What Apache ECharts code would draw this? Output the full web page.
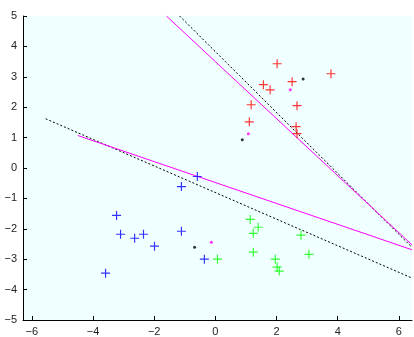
<!DOCTYPE html>
<html>
<head>
<meta charset="utf-8">
<script src="https://cdn.jsdelivr.net/npm/echarts@6/dist/echarts.min.js"></script>
<style>
html,body{margin:0;padding:0;background:#fff;}
#main{width:414px;height:337px;}
</style>
</head>
<body>
<div id="main"></div>
<script>
// class samples (x, y)
var redPts = [[3.78,3.10],[2.02,3.43],[1.57,2.74],[1.79,2.57],[1.17,2.08],[2.51,2.84],[2.67,2.05],[1.11,1.52],[2.64,1.36],[2.67,1.13]];
var bluePts = [[-3.23,-1.56],[-0.59,-0.28],[-1.11,-0.61],[-3.59,-3.46],[-3.10,-2.18],[-2.64,-2.31],[-2.35,-2.18],[-1.11,-2.08],[-1.99,-2.57],[-0.36,-3.0]];
var greenPts = [[0.07,-3.0],[1.14,-1.69],[1.40,-1.95],[1.24,-2.15],[1.24,-2.77],[1.96,-3.0],[2.02,-3.26],[2.09,-3.39],[2.80,-2.21],[3.06,-2.84]];
// small dots (means)
var blackDots = [[2.87,2.93],[0.88,0.93],[-0.68,-2.61]];
var magentaDots = [[2.45,2.57],[1.08,1.13],[-0.13,-2.44]];
// boundary lines
var dashUpper = [[-1.17,5],[6.43,-2.61]];
var dashLower = [[-5.55,1.62],[6.43,-3.62]];
var magUpper = [[-1.60,5],[6.43,-2.53]];
var magLower = [[-4.50,1.07],[6.43,-2.69]];
var xTicks = [-6,-4,-2,0,2,4,6];

var plus = 'path://M4.35,0H5.65V4.35H10V5.65H5.65V10H4.35V5.65H0V4.35H4.35Z';
var fmt = function(v){ return String(v).replace('-', '\u2212'); };

var myChart = echarts.init(document.getElementById('main'));

function pts(name, data, color, sym, size){
    return {
        name: name, type: 'scatter', data: data,
        symbol: sym, symbolSize: size,
        itemStyle: {color: color},
        animation: false, z: 3
    };
}
function ln(data, color, dash){
    return {
        type: 'line', data: data, symbol: 'none',
        lineStyle: {color: color, width: 1, type: dash ? [2,2] : 'solid'},
        animation: false, z: 2
    };
}

option = {
    grid: {
        left: 23, right: 2, top: 16, bottom: 15,
        show: true, backgroundColor: '#f0ffff', borderWidth: 0
    },
    xAxis: {
        type: 'value', min: -6.29, max: 6.43,
        splitLine: {show: false},
        axisLine: {onZero: false, lineStyle: {color: '#000'}},
        axisTick: {inside: true, length: 4, customValues: xTicks, lineStyle: {color: '#000'}},
        axisLabel: {customValues: xTicks, formatter: fmt, color: '#222', fontSize: 11,
            fontFamily: 'Liberation Sans, Arial, sans-serif', margin: 6}
    },
    yAxis: {
        type: 'value', min: -5, max: 5, interval: 1,
        splitLine: {show: false},
        axisLine: {show: true, onZero: false, lineStyle: {color: '#000'}},
        axisTick: {show: true, inside: true, length: 4, lineStyle: {color: '#000'}},
        axisLabel: {formatter: fmt, color: '#222', fontSize: 11,
            fontFamily: 'Liberation Sans, Arial, sans-serif', margin: 6}
    },
    series: [
        ln(dashUpper, '#000', true),
        ln(dashLower, '#000', true),
        ln(magUpper, '#ff00ff', false),
        ln(magLower, '#ff00ff', false),
        pts('red', redPts, '#ff0000', plus, 9),
        pts('blue', bluePts, '#0000ff', plus, 9),
        pts('green', greenPts, '#00ff00', plus, 9),
        pts('black', blackDots, '#000', 'circle', 3),
        pts('magenta', magentaDots, '#ff00ff', 'circle', 3)
    ]
};
myChart.setOption(option);
</script>
</body>
</html>
